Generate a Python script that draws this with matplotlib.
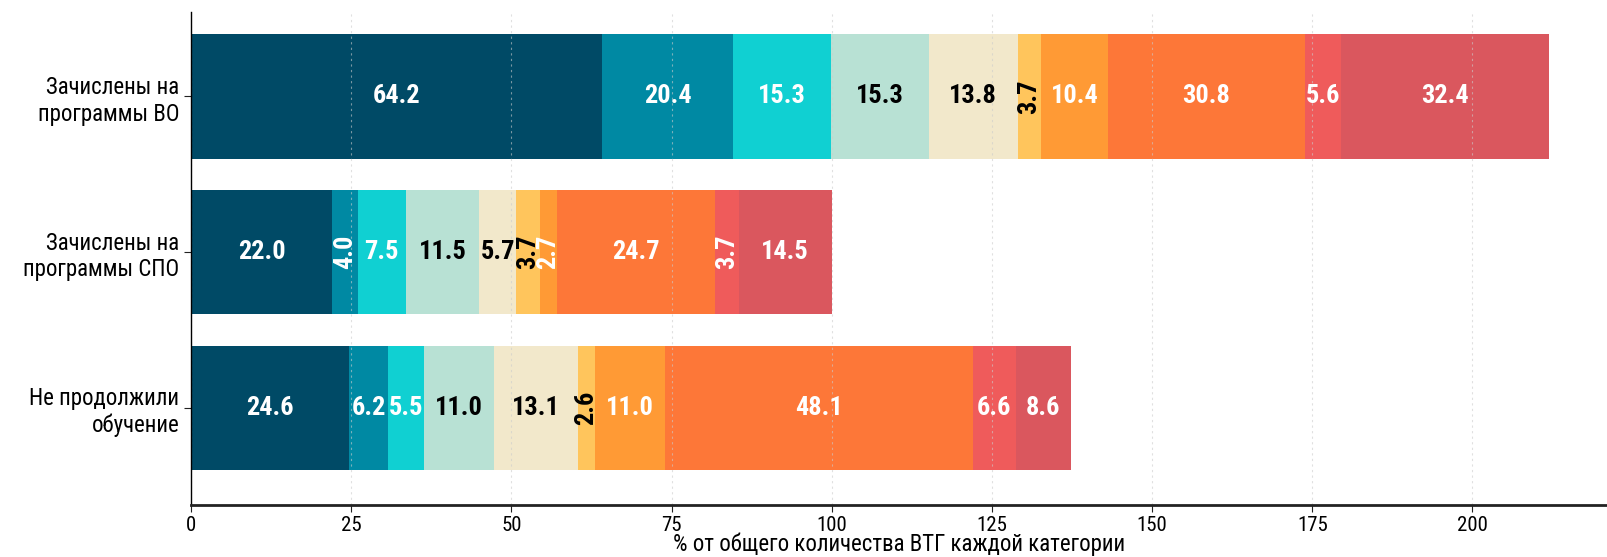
import matplotlib
matplotlib.use("Agg")
import matplotlib.pyplot as plt
from matplotlib import font_manager
import numpy as np

available = {f.name for f in font_manager.fontManager.ttflist}
label_family = "DejaVu Sans"
for cand in ["Roboto Condensed", "Open Sans Condensed", "Liberation Sans Narrow",
             "DejaVu Sans Condensed"]:
    if cand in available:
        label_family = cand
        break

plt.rcParams['font.family'] = [label_family, 'DejaVu Sans']

categories = ["Зачислены на\nпрограммы ВО", "Зачислены на\nпрограммы СПО", "Не продолжили\nобучение"]
s1 = [64.2, 22.0, 24.6]
s2 = [20.4, 4.0, 6.2]
s3 = [15.3, 7.5, 5.5]
s4 = [15.3, 11.5, 11.0]
s5 = [13.8, 5.7, 13.1]
s6 = [3.7, 3.7, 2.6]
s7 = [10.4, 2.7, 11.0]
s8 = [30.8, 24.7, 48.1]
s9 = [5.6, 3.7, 6.6]
s10 = [32.4, 14.5, 8.6]
series = [s1, s2, s3, s4, s5, s6, s7, s8, s9, s10]
colors = ["#004a66", "#0089a3", "#10d0d2", "#b8e1d4", "#f2e8cb",
          "#ffc55c", "#ff9a35", "#fd7738", "#ef5b5b", "#da575e"]
text_colors = ["white", "white", "white", "black", "black",
               "black", "white", "white", "white", "white"]
xticks = [0, 25, 50, 75, 100, 125, 150, 175, 200]
xlabel = "% от общего количества ВТГ каждой категории"

W, H = 1608, 557
fig = plt.figure(figsize=(W / 100, H / 100), dpi=100)
ax = fig.add_axes([191 / W, 52.5 / H, (1607 - 191) / W, (504.5 - 12.3) / H])

y = np.arange(len(categories))
left = np.zeros(len(categories))
for vals, c, tc in zip(series, colors, text_colors):
    vals = np.array(vals)
    ax.barh(y, vals, left=left, height=0.8, color=c, zorder=2)
    for yi, v, l in zip(y, vals, left):
        rot = 90 if v < 5 else 0
        ax.text(l + v / 2, yi, f"{v:.1f}", ha="center", va="center", color=tc,
                fontsize=19, fontweight="bold", rotation=rot, zorder=4)
    left += vals

ax.set_xlim(0, 221)
ax.set_ylim(2.62, -0.54)
ax.set_yticks(y)
ax.set_yticklabels(categories, fontsize=16.5, ha="right", linespacing=1.2)
ax.set_xticks(xticks)
ax.set_xticklabels([str(t) for t in xticks], fontsize=15)
ax.set_xlabel(xlabel, fontsize=16.5, labelpad=-2)
ax.xaxis.grid(True, color="#cccccc", linestyle=(0, (2, 3)), linewidth=0.8, alpha=0.6, zorder=3)
ax.set_axisbelow(False)
for sp in ["top", "right"]:
    ax.spines[sp].set_visible(False)
ax.spines["bottom"].set_linewidth(2)
ax.spines["bottom"].set_color("#222222")
ax.spines["left"].set_linewidth(1)
for sp in ax.spines.values():
    sp.set_zorder(5)
ax.tick_params(axis="both", length=5, color="#222222")

fig.savefig("out.png", dpi=100)
